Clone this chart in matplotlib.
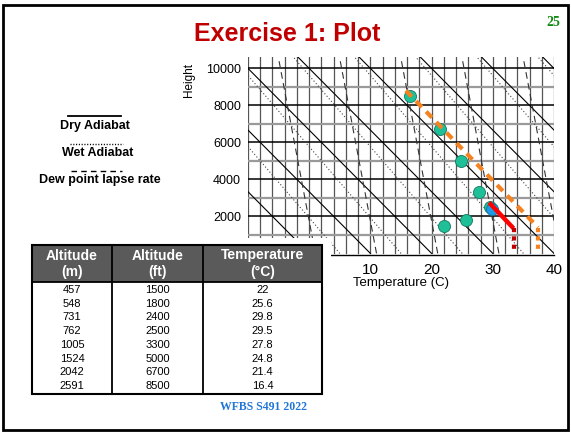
import matplotlib
matplotlib.use("Agg")
import matplotlib.pyplot as plt
from matplotlib.patches import Rectangle

plt.rcParams["font.family"] = ["Liberation Sans", "DejaVu Sans"]

# ---- data ----
alt_m = [457, 548, 731, 762, 1005, 1524, 2042, 2591]
alt_ft = [1500, 1800, 2400, 2500, 3300, 5000, 6700, 8500]
temp_c = [22, 25.6, 29.8, 29.5, 27.8, 24.8, 21.4, 16.4]
blue_idx = 2

# analysis lines drawn on the chart
orange_T = [15.8, 37.4]
orange_H = [8800, 1400]
red_T = [29.4, 33.4]
red_H = [2750, 1350]

# background chart lines (surface temp, lapse rate C per 1000 ft)
dry_T0 = [-10, 0, 10, 20, 30, 40, 50, 60, 70]
dry_rate = 3.0
wet_T0 = [5, 15, 25, 35, 45, 55, 65]
wet_rate = 2.6
dew_T0 = [1, 11, 21, 31, 41, 51]
dew_rate = 0.57

x_ticks = [10, 20, 30, 40]
y_ticks = [2000, 4000, 6000, 8000, 10000]

W, H = 571, 432
fig = plt.figure(figsize=(W / 100, H / 100), dpi=100)

ax = fig.add_axes([248 / W, (H - 255) / H, 306 / W, 198 / H])
ax.set_xlim(-10, 40)
ax.set_ylim(-86, 10616)
top = 10616

# grid
for t in range(-10, 41, 2):
    ax.plot([t, t], [0, top], color="#555555", lw=0.9, zorder=1)
for h in range(1000, 10001, 1000):
    if h % 2000 == 0:
        ax.plot([-10, 40], [h, h], color="black", lw=1.1, zorder=1)
    else:
        ax.plot([-10, 40], [h, h], color="#9a9a9a", lw=1.6, zorder=1)

for t0 in dry_T0:
    ax.plot([t0, t0 - dry_rate * top / 1000], [0, top], color="black", lw=0.8, zorder=2)
for t0 in wet_T0:
    ax.plot([t0, t0 - wet_rate * top / 1000], [0, top], color="#444444", lw=0.8,
            ls=(0, (1, 2)), zorder=2)
for t0 in dew_T0:
    ax.plot([t0, t0 - dew_rate * top / 1000], [0, top], color="#333333", lw=0.8,
            ls=(0, (6, 4)), zorder=2)

# observations
teal = [i for i in range(len(temp_c)) if i != blue_idx]
ax.scatter([temp_c[i] for i in teal], [alt_ft[i] for i in teal], s=75,
           color="#1fbf98", edgecolor="#107a60", lw=0.6, zorder=4)
ax.scatter([temp_c[blue_idx]], [alt_ft[blue_idx]], s=75, color="#1e9be6",
           edgecolor="#1070a0", lw=0.6, zorder=5)

ax.plot(orange_T, orange_H, color="#f58220", lw=3, ls=(0, (2, 1.5)), zorder=6)
ax.plot([orange_T[1], orange_T[1]], [orange_H[1], 0], color="#f58220", lw=3,
        ls=(0, (1, 1)), zorder=6)
ax.plot(red_T, red_H, color="#ff0000", lw=3.2, zorder=6, solid_capstyle="butt")
ax.plot([red_T[1], red_T[1]], [red_H[1], 0], color="#c00000", lw=3,
        ls=(0, (1, 1)), zorder=6)

for s in ["left", "right", "top"]:
    ax.spines[s].set_visible(False)
ax.spines["bottom"].set_linewidth(1.0)
ax.set_xticks(x_ticks)
ax.set_yticks(y_ticks)
ax.tick_params(length=0)
ax.tick_params(axis="x", labelsize=11, pad=6)
ax.tick_params(axis="y", labelsize=9, pad=5)
ax.set_xlabel("Temperature (C)", fontsize=9.5, labelpad=0)
ax.patch.set_visible(False)

# ---- overlay in pixel coordinates ----
ov = fig.add_axes([0, 0, 1, 1])
ov.set_xlim(0, W)
ov.set_ylim(H, 0)
ov.axis("off")
ov.patch.set_visible(False)
ov.set_zorder(5)

ov.add_patch(Rectangle((6, 238), 325, 188, facecolor="white", edgecolor="none"))

ov.text(189, 80, "Height", rotation=90, ha="center", va="center", fontsize=8.5)

ov.text(287.5, 34, "Exercise 1: Plot", color="#c00000", fontsize=18,
        fontweight="bold", ha="center", va="center")
ov.text(553, 22, "25", color="#138a13", fontsize=10, fontweight="bold",
        family="Liberation Serif", ha="center", va="center")
ov.text(263, 407, "WFBS S491 2022", color="#2075d8", fontsize=8.5,
        fontweight="bold", family="Liberation Serif", ha="center", va="center")

# legend
ov.plot([68, 121], [116, 116], color="black", lw=1.3)
ov.text(95, 126, "Dry Adiabat", fontsize=9, fontweight="bold", ha="center", va="center")
ov.plot([70, 123], [143.5, 143.5], color="black", lw=1.0, ls=(0, (0.8, 1.2)))
ov.text(97.5, 153, "Wet Adiabat", fontsize=9, fontweight="bold", ha="center", va="center")
ov.plot([71, 122], [171, 171], color="black", lw=1.0, ls=(0, (4, 3)))
ov.text(99.5, 180, "Dew point lapse rate", fontsize=9, fontweight="bold",
        ha="center", va="center")

# table
tx = [32, 112, 203, 322]
ty0, ty1, ty2 = 245, 282, 394
ov.add_patch(Rectangle((tx[0], ty0), tx[3] - tx[0], ty1 - ty0, facecolor="#5a5a5a",
                       edgecolor="none"))
ov.add_patch(Rectangle((tx[0], ty0), tx[3] - tx[0], ty2 - ty0, facecolor="none",
                       edgecolor="black", lw=1.5))
for x in tx[1:3]:
    ov.plot([x, x], [ty0, ty2], color="black", lw=1.3)
ov.plot([tx[0], tx[3]], [ty1, ty1], color="black", lw=1.3)

headers = [("Altitude", "(m)"), ("Altitude", "(ft)"), ("Temperature", "(°C)")]
cols = [alt_m, alt_ft, temp_c]
for j, (a, b) in enumerate(headers):
    cx = (tx[j] + tx[j + 1]) / 2
    ov.text(cx, 255.5, a, color="white", fontsize=10, fontweight="bold",
            ha="center", va="center")
    ov.text(cx, 272, b, color="white", fontsize=10, fontweight="bold",
            ha="center", va="center")
    for i, v in enumerate(cols[j]):
        ov.text(cx, 290 + 13.7 * i, f"{v:g}", fontsize=8, ha="center", va="center")

# slide frame
ov.add_patch(Rectangle((3, 5), 565, 425, facecolor="none", edgecolor="black", lw=2))

fig.savefig("out.png", dpi=100)
